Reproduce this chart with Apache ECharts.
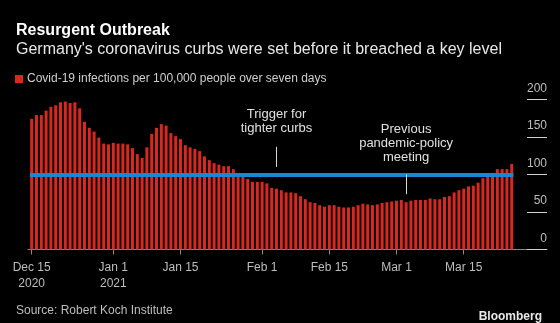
<!DOCTYPE html>
<html>
<head>
<meta charset="utf-8">
<script src="https://cdn.jsdelivr.net/npm/echarts@6/dist/echarts.min.js"></script>
<style>
html,body{margin:0;padding:0;background:#000;}
#chart{width:560px;height:323px;}
</style>
</head>
<body>
<div id="chart"></div>
<script>
// ---- data ----
const startDate = '2020-12-15';
const seriesName = 'Covid-19 infections per 100,000 people over seven days';
const values = [
  174,179,179,185,190,192,196,197,195,196,188,170,162,157,149,141,140,
  142,141,141,140,135,127,122,136,154,162,167,165,155,151,
  147,139,136,134,131,124,119,115,113,111,111,107,101,97,94,90,90,
  90,88,82,81,79,76,76,75,71,67,63,62,59,57,
  59,59,57,56,56,57,59,61,60,59,60,62,63,64,
  65,66,63,65,66,66,66,68,67,67,70,71,76,79,
  81,84,85,89,95,98,102,107,107,107,114
];
const tickDates = ['2020-12-15','2021-01-01','2021-01-15','2021-02-01','2021-02-15','2021-03-01','2021-03-15'];
const tickLabels = ['Dec 15\n2020','Jan 1\n2021','Jan 15','Feb 1','Feb 15','Mar 1','Mar 15'];
const yTicks = [0, 50, 100, 150, 200];
const threshold = 100;
const annotationDates = ['2021-02-04', '2021-03-03'];
const annotationTexts = ['Trigger for\ntighter curbs', 'Previous\npandemic-policy\nmeeting'];

// ---- helpers ----
const DAY = 86400000;
const dayIndex = d => Math.round((Date.parse(d) - Date.parse(startDate)) / DAY);
const tickDays = tickDates.map(dayIndex);
const annDays = annotationDates.map(dayIndex);
const FONT = 'Liberation Sans';

const chart = echarts.init(document.getElementById('chart'));
const option = {
  backgroundColor: '#000',
  animation: false,
  textStyle: { fontFamily: FONT },
  title: [
    {
      text: 'Resurgent Outbreak',
      subtext: "Germany's coronavirus curbs were set before it breached a key level",
      left: 11, top: 18, itemGap: 3,
      textStyle: { color: '#fff', fontSize: 16, fontWeight: 'bold', fontFamily: FONT },
      subtextStyle: { color: '#e8e8e8', fontSize: 16, fontFamily: FONT }
    },
    {
      text: 'Source: Robert Koch Institute',
      left: 11, top: 300,
      textStyle: { color: '#bdbdbd', fontSize: 12, fontWeight: 'normal', fontFamily: FONT }
    },
    {
      text: 'Bloomberg',
      right: 13, top: 306,
      textStyle: { color: '#e8e8e8', fontSize: 12, fontWeight: 'bold', fontFamily: FONT }
    }
  ],
  legend: {
    left: 10, top: 68,
    icon: 'rect', itemWidth: 8, itemHeight: 8, itemGap: 5,
    textStyle: { color: '#cfcfcf', fontSize: 12, fontFamily: FONT, padding: [0,0,0,-1] },
    data: [seriesName]
  },
  grid: { left: 28, right: 13, top: 99.3, bottom: 73.5 },
  xAxis: {
    type: 'value',
    min: -0.77,
    max: 107.35,
    splitLine: { show: false },
    axisLine: { show: true, onZero: false, lineStyle: { color: '#8a8a8a', width: 1 } },
    axisTick: { show: true, length: 5, customValues: tickDays, lineStyle: { color: '#8a8a8a' } },
    axisLabel: {
      customValues: tickDays,
      color: '#bdbdbd', fontSize: 12, lineHeight: 16, margin: 10, fontFamily: FONT,
      formatter: v => { const k = tickDays.indexOf(Math.round(v)); return k >= 0 ? tickLabels[k] : ''; }
    }
  },
  yAxis: {
    type: 'value',
    position: 'right',
    min: 0, max: 200, interval: 50,
    splitLine: { show: false },
    axisLine: { show: false, onZero: false },
    axisTick: { show: true, inside: true, length: 20, lineStyle: { color: '#cfcfcf', width: 1 } },
    axisLabel: {
      inside: true, margin: 0, align: 'right', verticalAlign: 'bottom',
      padding: [0, 0, 5, 0],
      color: '#bdbdbd', fontSize: 12, fontFamily: FONT,
      customValues: yTicks
    }
  },
  series: [
    {
      name: seriesName,
      type: 'bar',
      barWidth: 3,
      itemStyle: { color: '#d8281f' },
      data: values.map((v, i) => [i, v]),
      markLine: {
        silent: true,
        symbol: ['none', 'none'],
        animation: false,
        data: [
          [
            { coord: [-0.35, threshold], lineStyle: { color: '#1b86d6', width: 4, type: 'solid' }, label: { show: false } },
            { coord: [values.length - 1 + 0.35, threshold] }
          ],
          [
            { coord: [annDays[0], 110], lineStyle: { color: '#d8d8d8', width: 1, type: 'solid' },
              label: { show: true, position: 'end', distance: 11, formatter: annotationTexts[0],
                       color: '#e0e0e0', fontSize: 13, lineHeight: 14, fontFamily: FONT } },
            { coord: [annDays[0], 136.7] }
          ],
          [
            { coord: [annDays[1], 73.6], lineStyle: { color: '#d8d8d8', width: 1, type: 'solid' },
              label: { show: true, position: 'end', distance: 10, formatter: annotationTexts[1],
                       color: '#e0e0e0', fontSize: 13, lineHeight: 14, fontFamily: FONT } },
            { coord: [annDays[1], threshold] }
          ]
        ]
      }
    }
  ]
};
chart.setOption(option);
</script>
</body>
</html>
